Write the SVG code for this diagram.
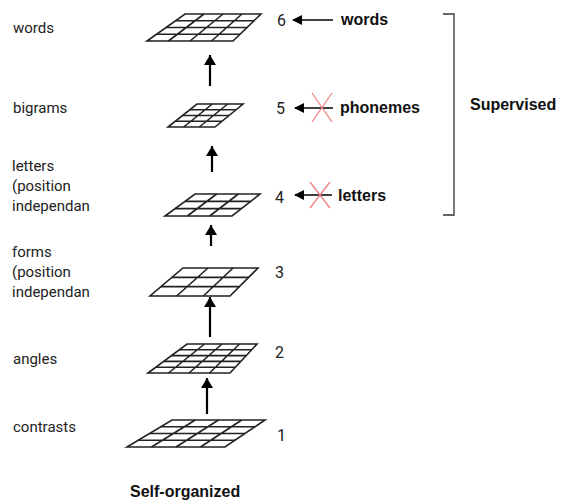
<svg xmlns="http://www.w3.org/2000/svg" width="561" height="502" viewBox="0 0 561 502">
<defs>
<marker id="ah" viewBox="0 0 10 10" refX="9" refY="5" markerWidth="11" markerHeight="10" markerUnits="userSpaceOnUse" orient="auto">
<path d="M0,0 L10,5 L0,10 z" fill="#000"/>
</marker>
<marker id="ahv" viewBox="0 0 10 12" refX="10" refY="6" markerWidth="14" markerHeight="12" markerUnits="userSpaceOnUse" orient="auto">
<path d="M0,0 L10,6 L0,12 z" fill="#000"/>
</marker>
</defs>
<style>
.grid{fill:#fff;stroke:#222;stroke-width:1.6;stroke-linejoin:miter}
.gl{fill:none;stroke:#222;stroke-width:1.6}
.lbl{font-family:Roboto,"Liberation Sans",sans-serif;font-size:15px;fill:#222}
.num{font-family:Roboto,"Liberation Sans",sans-serif;font-size:16px;fill:#222}
.bold{font-family:"Liberation Sans",Arial,sans-serif;font-size:16px;font-weight:bold;fill:#111}
.arr{stroke:#000;stroke-width:2.2;fill:none}
.harr{stroke:#000;stroke-width:1.5;fill:none}
.x{stroke:#f08080;stroke-width:1.3;fill:none}
.br{stroke:#333;stroke-width:1.3;fill:none}
</style>

<g id="layer6">
<polygon class="grid" points="185,14 261,14 233,41 147,41"/>
<path class="gl" d="M175.5,20.75H254M166,27.5H247M156.5,34.25H240M204,14L168.5,41M223,14L190,41M242,14L211.5,41"/>
<text class="num" x="277" y="26">6</text>
</g>
<g id="layer5">
<polygon class="grid" points="197,104 243,104 215,127 168,127"/>
<path class="gl" d="M189.75,109.75H236M182.5,115.5H229M175.25,121.25H222M212.3,104L183.7,127M227.7,104L199.3,127"/>
<text class="num" x="276" y="114">5</text>
</g>
<g id="layer4">
<polygon class="grid" points="195,194 260,194 232,216 165,216"/>
<path class="gl" d="M185,201.33H250.67M175,208.67H241.33M216.67,194L187.33,216M238.33,194L209.67,216"/>
<text class="num" x="275" y="203">4</text>
</g>
<g id="layer3">
<polygon class="grid" points="183,268 258,268 230,296 150,296"/>
<path class="gl" d="M172,277.33H248.67M161,286.67H239.33M208,268L176.67,296M233,268L203.33,296"/>
<text class="num" x="275" y="278">3</text>
</g>
<g id="layer2">
<polygon class="grid" points="187,344 257,344 230,373 148,373"/>
<path class="gl" d="M179.2,349.8H251.6M171.4,355.6H246.2M163.6,361.4H240.8M155.8,367.2H235.4M204.5,344L168.5,373M222,344L189,373M239.5,344L209.5,373"/>
<text class="num" x="275" y="358">2</text>
</g>
<g id="layer1">
<polygon class="grid" points="172,420 265,420 225,447 127,447"/>
<path class="gl" d="M160.75,426.75H255M149.5,433.5H245M138.25,440.25H235M195.25,420L151.5,447M218.5,420L176,447M241.75,420L200.5,447"/>
<text class="num" x="277" y="441">1</text>
</g>

<g id="labels">
<text class="lbl" x="13" y="33">words</text>
<text class="lbl" x="13" y="113">bigrams</text>
<text class="lbl" x="12" y="171">letters</text>
<text class="lbl" x="12" y="191">(position</text>
<text class="lbl" x="12" y="211">independan</text>
<text class="lbl" x="12" y="257">forms</text>
<text class="lbl" x="12" y="277">(position</text>
<text class="lbl" x="12" y="297">independan</text>
<text class="lbl" x="13" y="364">angles</text>
<text class="lbl" x="13" y="432">contrasts</text>
</g>

<g id="connectors">
<line class="arr" x1="210" y1="86" x2="210" y2="55" marker-end="url(#ahv)"/>
<line class="arr" x1="212" y1="172" x2="212" y2="146" marker-end="url(#ahv)"/>
<line class="arr" x1="211" y1="246" x2="211" y2="225" marker-end="url(#ahv)"/>
<line class="arr" x1="210" y1="337" x2="210" y2="297" marker-end="url(#ahv)"/>
<line class="arr" x1="207" y1="414" x2="207" y2="378" marker-end="url(#ahv)"/>
<line class="harr" x1="333" y1="20" x2="293" y2="20" marker-end="url(#ah)"/>
<line class="harr" x1="333" y1="108" x2="295" y2="108" marker-end="url(#ah)"/>
<line class="harr" x1="332" y1="195" x2="295" y2="195" marker-end="url(#ah)"/>
</g>

<g id="crosses">
<path class="x" d="M312,93L332,122M332,93L312,122"/>
<path class="x" d="M310,182L330,208M330,182L310,208"/>
</g>

<g id="inputs">
<text class="bold" x="341" y="25">words</text>
<text class="bold" x="340" y="113">phonemes</text>
<text class="bold" x="338" y="201">letters</text>
</g>

<g id="bracket">
<path class="br" d="M443,14H454V215H443"/>
<text class="bold" x="470" y="110">Supervised</text>
</g>

<text class="bold" x="130" y="497">Self-organized</text>
</svg>
